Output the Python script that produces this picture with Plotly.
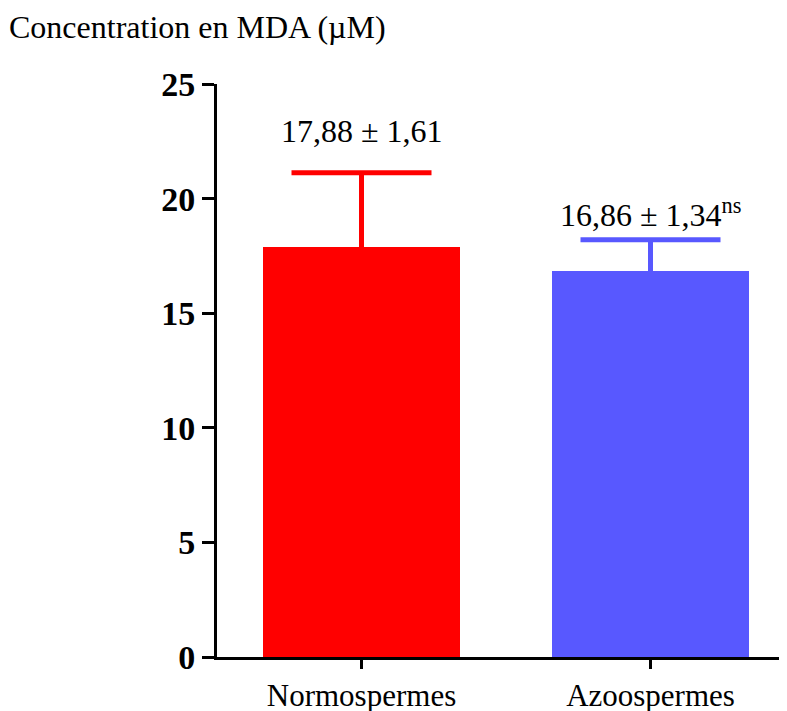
import plotly.graph_objects as go

categories = ["Normospermes", "Azoospermes"]
means = [17.88, 16.86]
errors_plotted = [3.25, 1.34]
value_labels = ["17,88 ± 1,61", "16,86 ± 1,34<sup>ns</sup>"]
colors = ["#FF0000", "#5858FF"]
y_ticks = [0, 5, 10, 15, 20, 25]

FONT = "Liberation Serif, Times New Roman, serif"

fig = go.Figure()
for cat, m, e, c in zip(categories, means, errors_plotted, colors):
    fig.add_trace(go.Bar(
        x=[cat], y=[m], width=0.68,
        marker=dict(color=c, line=dict(width=0)),
        error_y=dict(type="data", symmetric=False, array=[e], arrayminus=[0],
                     color=c, thickness=5, width=0),
        showlegend=False,
    ))
    # error-bar cap (top only)
    fig.add_trace(go.Scatter(
        x=[cat], y=[m + e], mode="markers",
        marker=dict(symbol="line-ew", size=100, color=c,
                    line=dict(width=5, color=c)),
        showlegend=False, hoverinfo="skip",
    ))

for cat, m, e, lab in zip(categories, means, errors_plotted, value_labels):
    fig.add_annotation(x=cat, y=m + e, text=lab, showarrow=False,
                       yshift=42 if e > 2 else 27,
                       font=dict(family=FONT, size=32, color="black"))

fig.add_annotation(xref="paper", yref="paper", x=-0.364, y=1.1,
                   xanchor="left", yanchor="middle",
                   text="Concentration en MDA (µM)", showarrow=False,
                   font=dict(family=FONT, size=32, color="black"))

fig.update_layout(
    width=787, height=711,
    margin=dict(l=209, r=0, t=76, b=62),
    plot_bgcolor="white", paper_bgcolor="white",
    bargap=0,
    xaxis=dict(
        range=[-0.5, 1.5], showgrid=False, zeroline=False, automargin=False,
        showline=True, linecolor="black", linewidth=3,
        ticks="outside", ticklen=9, tickwidth=3, tickcolor="black",
        tickfont=dict(family=FONT, size=31, color="black"),
    ),
    yaxis=dict(
        range=[0, 25], tickvals=y_ticks, showgrid=False, zeroline=False,
        automargin=False,
        showline=True, linecolor="black", linewidth=3,
        ticks="outside", ticklen=12, tickwidth=3, tickcolor="black",
        tickfont=dict(family=FONT, size=34, color="black", weight="bold"),
    ),
)

fig.write_html("out.html")
